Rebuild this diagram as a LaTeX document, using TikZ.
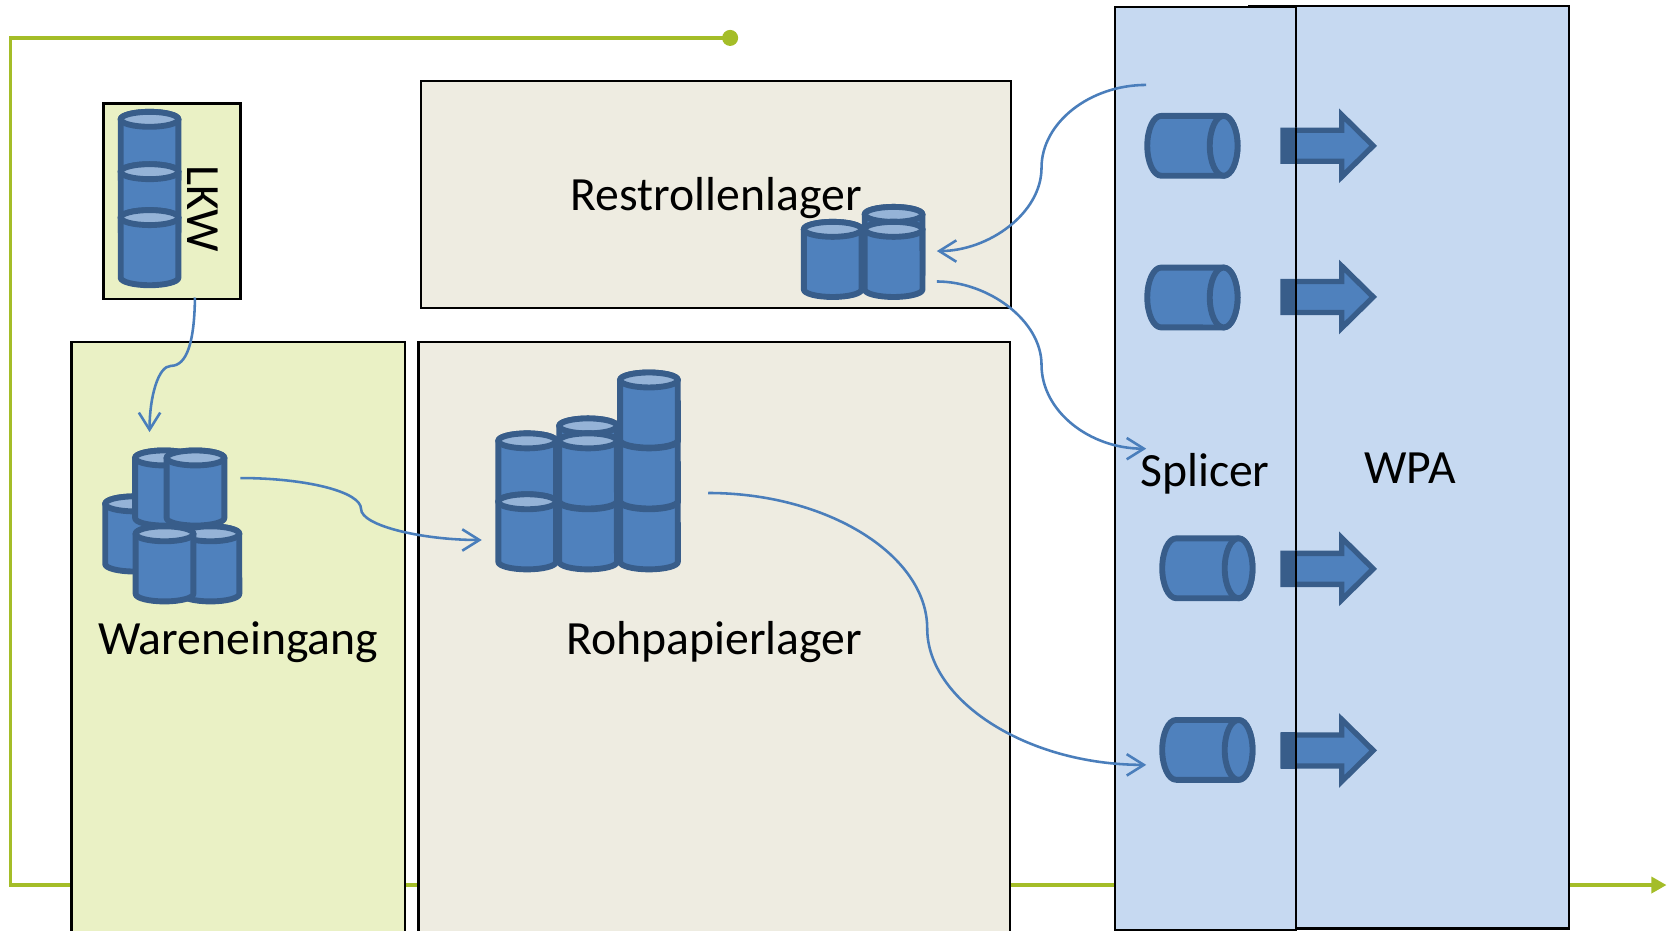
\documentclass[tikz,border=0pt]{standalone}
\usepackage{fontspec}
\setmainfont{Carlito}
\usetikzlibrary{arrows.meta}
\definecolor{flowgreen}{HTML}{A4BD28}
\definecolor{palegreen}{HTML}{EAF1C5}
\definecolor{paletan}{HTML}{EEECE1}
\definecolor{paleblue}{HTML}{C6D9F1}
\definecolor{drumfill}{HTML}{4F81BD}
\definecolor{drumtop}{HTML}{95B3D7}
\definecolor{drumline}{HTML}{385D8A}
\definecolor{linkblue}{HTML}{4A7EBB}
\tikzset{
  zone/.style={draw=black,line width=0.021cm},
  drum/.style={draw=drumline,fill=drumfill,line width=0.055cm,line join=round},
  drumlid/.style={draw=drumline,fill=drumtop,line width=0.055cm},
  blockarrow/.style={draw=drumline,fill=drumfill,line width=0.05cm,line join=miter},
  link/.style={draw=linkblue,line width=0.024cm,-{Straight Barb[length=0.16cm,width=0.2cm]}},
  flow/.style={draw=flowgreen,line width=0.03cm},
  label/.style={inner sep=0pt,anchor=base,font=\fontsize{12.7pt}{15pt}\selectfont}
}
% upright drum: centre x, y of lid centre
\newcommand{\drumV}[2]{%
  \path[drum] (#1-27,#2+0.7) -- (#1-27,#2+57)
    arc[x radius=0.27cm,y radius=0.07cm,start angle=180,end angle=360]
    -- (#1+27,#2+0.7) arc[x radius=0.27cm,y radius=0.07cm,start angle=0,end angle=180] -- cycle;
  \path[drumlid] (#1,#2+0.7) ellipse[x radius=0.27cm,y radius=0.07cm];
}
% lying drum: left centre x, right centre x, top y
\newcommand{\drumH}[3]{%
  \path[drum] (#1,#3) -- (#2,#3)
    arc[x radius=0.13cm,y radius=0.28cm,start angle=90,end angle=-90]
    -- (#1,#3+56) arc[x radius=0.13cm,y radius=0.28cm,start angle=270,end angle=90] -- cycle;
  \path[drum] (#2,#3+28) ellipse[x radius=0.13cm,y radius=0.28cm];
}
% block arrow: centre y
\newcommand{\blockarrow}[1]{%
  \path[blockarrow] (1201,#1-14.5) -- (1256,#1-14.5) -- (1256,#1-29) -- (1285.5,#1) -- (1256,#1+29)
    -- (1256,#1+14.5) -- (1201,#1+14.5) -- cycle;
  \fill[drumline] (1199,#1-17) rectangle (1213.5,#1+17);
  \draw[zone] (1213.5,#1-17) -- (1213.5,#1+17);
}
\begin{document}
\begin{tikzpicture}[x=0.01cm,y=-0.01cm]
\useasboundingbox (0,0) rectangle (1568,870.7);
\clip (0,0) rectangle (1568,870.7);
% green flow
\coordinate (flowstart) at (683.5,35.5);
\coordinate (flowtl) at (10,35.5);
\coordinate (flowbl) at (10,828.5);
\coordinate (flowend) at (1560,828.5);
\draw[flow,-{Triangle[length=0.14cm,width=0.15cm]},line join=miter] (flowstart) -- (flowtl) -- (flowbl) -- (flowend);
\fill[flowgreen] (flowstart) circle[radius=0.075cm];
% zones
\node[zone,fill=palegreen,minimum width=1.28cm,minimum height=1.83cm,inner sep=0pt] (lkw) at (161,188.5) {};
\node[zone,fill=paletan,minimum width=5.52cm,minimum height=2.12cm,inner sep=0pt] (rest) at (670,182) {};
\node[zone,fill=palegreen,minimum width=3.12cm,minimum height=5.8cm,inner sep=0pt] (ware) at (223,610) {};
\node[zone,fill=paletan,minimum width=5.53cm,minimum height=5.8cm,inner sep=0pt] (roh) at (668.5,610) {};
\node[zone,fill=paleblue,minimum width=2.99cm,minimum height=8.63cm,inner sep=0pt] (wpa) at (1319,437.5) {};
\node[zone,fill=paleblue,minimum width=1.70cm,minimum height=8.63cm,inner sep=0pt] (splicer) at (1128.5,438.5) {};
% labels
\node[label,rotate=-90] (lkwtext) at (175.5,195) {LKW};
\node[label] (resttext) at (670.5,197.5) {Restrollenlager};
\node[label] (waretext) at (223,613) {Wareneingang};
\node[label] (rohtext) at (668.5,613) {Rohpapierlager};
\node[label] (splicertext) at (1128,455) {Splicer};
\node[label] (wpatext) at (1320,453) {WPA};
% LKW stack
\drumV{140}{111}
\drumV{140}{160}
\drumV{140}{203}
% Wareneingang group
\drumV{125.5}{471}
\drumV{153.5}{428}
\drumV{183}{428}
\drumV{197}{499}
\drumV{154}{499}
% Rohpapierlager group
\drumV{607.5}{469}
\drumV{607.5}{412}
\drumV{607.5}{355}
\drumV{550.5}{469}
\drumV{550.5}{398}
\drumV{550.5}{412}
\drumV{493.5}{412}
\drumV{493.5}{469}
% Restrollenlager group
\drumV{779.5}{214}
\drumV{836.5}{200}
\drumV{836.5}{214}
% Splicer drums
\drumH{1087}{1145.5}{108.5}
\drumH{1087}{1145.5}{250.5}
\drumH{1101}{1159.5}{504}
\drumH{1101}{1159.5}{674}
% block arrows
\blockarrow{136.5}
\blockarrow{278}
\blockarrow{532.5}
\blockarrow{702.5}
% connectors
\coordinate (a1) at (182.5,278.5); \coordinate (am) at (160,342.5); \coordinate (a2) at (140,404.5);
\draw[link] (a1) .. controls (182,320) and (175,342.5) .. (am) .. controls (148,342.5) and (140,372) .. (a2);
\coordinate (b1) at (225,447.5); \coordinate (bm) at (338,476.5); \coordinate (b2) at (451,505.5);
\draw[link] (b1) .. controls (285,447.5) and (338,460) .. (bm) .. controls (338,492) and (395,505.5) .. (b2);
\coordinate (c1) at (1073,79.5); \coordinate (cm) at (975,157); \coordinate (c2) at (877,235);
\draw[link] (c1) .. controls (1020,79.5) and (975,115) .. (cm) .. controls (975,200) and (925,235) .. (c2);
\coordinate (d1) at (877,263.5); \coordinate (dm) at (975,341.5); \coordinate (d2) at (1073,420);
\draw[link] (d1) .. controls (925,263.5) and (975,300) .. (dm) .. controls (975,385) and (1020,420) .. (d2);
\coordinate (e1) at (663,461.5); \coordinate (em) at (868,588.5); \coordinate (e2) at (1073,716);
\draw[link] (e1) .. controls (775,461.5) and (868,520) .. (em) .. controls (868,655) and (960,716) .. (e2);
\end{tikzpicture}
\end{document}
